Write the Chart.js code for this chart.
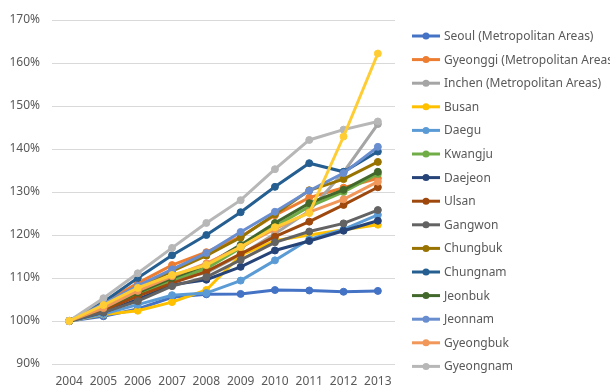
<!DOCTYPE html>
<html>
<head>
<meta charset="utf-8">
<script src="https://cdn.jsdelivr.net/npm/chart.js@4.4.1/dist/chart.umd.min.js"></script>
<style>
    html, body { margin: 0; padding: 0; background: #ffffff; }
    #wrap { width: 610px; height: 386px; }
</style>
</head>
<body>
<div id="wrap"><canvas id="chart1" width="610" height="386"></canvas></div>
<script>
// Land price index by region, 2004 = 100%
var years = ['2004', '2005', '2006', '2007', '2008', '2009', '2010', '2011', '2012', '2013'];
var percentTicks = [90, 100, 110, 120, 130, 140, 150, 160, 170];

var seoul     = [100, 101.1, 102.8, 105.5, 106.2, 106.3, 107.2, 107.1, 106.8, 107.0];
var gyeonggi  = [100, 104.2, 108.8, 113.0, 116.0, 119.6, 124.6, 128.7, 131.0, 133.2];
var inchen    = [100, 103.4, 106.8, 109.6, 111.2, 115.4, 120.3, 125.6, 134.6, 145.8];
var busan     = [100, 101.5, 102.4, 104.4, 107.2, 115.3, 118.7, 120.0, 121.2, 122.4];
var daegu     = [100, 101.6, 103.8, 106.0, 106.5, 109.4, 114.1, 119.0, 121.3, 124.7];
var kwangju   = [100, 102.8, 106.0, 109.5, 112.2, 117.0, 122.0, 126.6, 130.0, 134.2];
var daejeon   = [100, 102.0, 105.0, 108.4, 109.6, 112.6, 116.4, 118.6, 121.0, 123.3];
var ulsan     = [100, 102.5, 105.8, 108.8, 111.5, 115.6, 119.6, 123.1, 127.0, 131.1];
var gangwon   = [100, 102.0, 104.6, 108.1, 110.2, 114.2, 118.3, 120.8, 122.7, 125.8];
var chungbuk  = [100, 103.6, 107.8, 111.6, 115.2, 119.4, 124.8, 130.4, 133.0, 137.0];
var chungnam  = [100, 104.4, 110.0, 115.3, 120.0, 125.3, 131.2, 136.7, 134.7, 139.4];
var jeonbuk   = [100, 103.0, 106.6, 110.0, 113.0, 117.7, 122.8, 127.4, 130.5, 134.7];
var jeonnam   = [100, 104.0, 108.2, 112.0, 115.8, 120.7, 125.4, 130.3, 134.4, 140.5];
var gyeongbuk = [100, 103.0, 107.0, 110.4, 113.4, 117.2, 121.4, 125.3, 128.3, 132.4];
var gyeongnam = [100, 105.3, 111.1, 117.0, 122.8, 128.1, 135.3, 142.1, 144.5, 146.4];
var jeju      = [100, 103.7, 107.7, 110.7, 113.0, 117.2, 121.8, 125.1, 142.9, 162.2];

var regions = [
    ['Seoul (Metropolitan Areas)', seoul, '#4472C4'],
    ['Gyeonggi (Metropolitan Areas)', gyeonggi, '#ED7D31'],
    ['Inchen (Metropolitan Areas)', inchen, '#A5A5A5'],
    ['Busan', busan, '#FFC000'],
    ['Daegu', daegu, '#5B9BD5'],
    ['Kwangju', kwangju, '#70AD47'],
    ['Daejeon', daejeon, '#264478'],
    ['Ulsan', ulsan, '#9E480E'],
    ['Gangwon', gangwon, '#636363'],
    ['Chungbuk', chungbuk, '#997300'],
    ['Chungnam', chungnam, '#255E91'],
    ['Jeonbuk', jeonbuk, '#43682B'],
    ['Jeonnam', jeonnam, '#698ED0'],
    ['Gyeongbuk', gyeongbuk, '#F1975A'],
    ['Gyeongnam', gyeongnam, '#B7B7B7'],
    ['Jeju', jeju, '#FFCD33']
];

var FONT = '"Noto Sans", "Liberation Sans", sans-serif';
var TEXT = '#595959';

// legend on the right: line + marker + label, one row per series, cut off at the canvas edge
var lineLegend = {
    id: 'lineLegend',
    afterDraw: function(chart) {
        var ctx = chart.ctx;
        var x0 = chart.chartArea.right + 17;
        ctx.save();
        ctx.font = '12px ' + FONT;
        ctx.textBaseline = 'middle';
        chart.data.datasets.forEach(function(ds, i) {
            var y = 36 + i * 23.6;
            if (y + 8 > chart.height) return;
            ctx.strokeStyle = ds.borderColor;
            ctx.lineWidth = 3;
            ctx.beginPath();
            ctx.moveTo(x0, y);
            ctx.lineTo(x0 + 28, y);
            ctx.stroke();
            ctx.fillStyle = ds.borderColor;
            ctx.beginPath();
            ctx.arc(x0 + 14, y, 3.5, 0, Math.PI * 2);
            ctx.fill();
            ctx.fillStyle = TEXT;
            ctx.fillText(ds.label, x0 + 32, y + 0.5);
        });
        ctx.restore();
    }
};

function makeRegionChart() {
    var datasets = regions.map(function(r, i) {
        return {
            label: r[0],
            data: r[1],
            borderColor: r[2],
            backgroundColor: r[2],
            borderWidth: 3,
            pointRadius: 3.5,
            pointBorderWidth: 1,
            pointBackgroundColor: r[2],
            pointBorderColor: r[2],
            tension: 0,
            fill: false,
            order: regions.length - i
        };
    });

    var ctx1 = document.getElementById('chart1').getContext('2d');
    var chart1 = new Chart(ctx1, {
        type: 'line',
        data: { labels: years, datasets: datasets },
        options: {
            responsive: false,
            animation: false,
            layout: { padding: { top: 20, right: 215, left: 0, bottom: 0 } },
            plugins: {
                legend: { display: false },
                tooltip: { enabled: false }
            },
            scales: {
                x: {
                    offset: true,
                    afterFit: function(scale) { scale.height = 22; },
                    grid: { display: false, drawTicks: false },
                    border: { display: false },
                    ticks: { color: TEXT, font: { family: FONT, size: 12 }, padding: 10, maxRotation: 0 }
                },
                y: {
                    min: 90,
                    max: 170,
                    afterBuildTicks: function(scale) {
                        scale.ticks = percentTicks.map(function(v) { return { value: v }; });
                    },
                    afterFit: function(scale) { scale.width = 52; },
                    grid: { color: '#D9D9D9', lineWidth: 1, drawTicks: false },
                    border: { display: false },
                    ticks: {
                        color: TEXT,
                        font: { family: FONT, size: 12 },
                        padding: 12,
                        callback: function(v) { return v + '%'; }
                    }
                }
            }
        },
        plugins: [lineLegend]
    });
}

window.onload = function() {
    makeRegionChart();
};
</script>
</body>
</html>
